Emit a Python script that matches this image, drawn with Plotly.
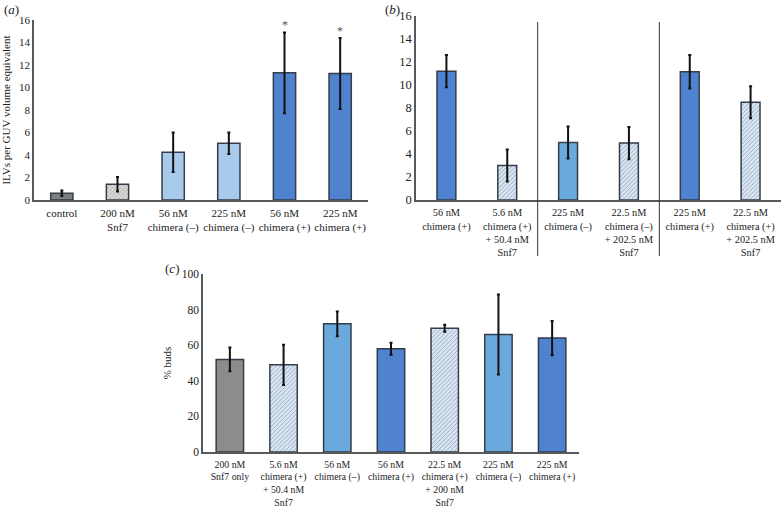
import plotly.graph_objects as go

# panel (a)
a_labels = ["control", "200 nM<br>Snf7", "56 nM<br>chimera (–)", "225 nM<br>chimera (–)",
            "56 nM<br>chimera (+)", "225 nM<br>chimera (+)"]
a_values = [0.6, 1.4, 4.25, 5.05, 11.3, 11.25]
a_errors = [0.25, 0.65, 1.75, 0.95, 3.6, 3.15]
a_kinds = ["grey", "grey_hatch", "light", "light", "dark", "dark"]
a_stars = ["", "", "", "", "*", "*"]

# panel (b)
b_labels = ["56 nM<br>chimera (+)", "5.6 nM<br>chimera (+)<br>+ 50.4 nM<br>Snf7",
            "225 nM<br>chimera (–)", "22.5 nM<br>chimera (–)<br>+ 202.5 nM<br>Snf7",
            "225 nM<br>chimera (+)", "22.5 nM<br>chimera (+)<br>+ 202.5 nM<br>Snf7"]
b_values = [11.2, 3.0, 5.0, 4.95, 11.15, 8.5]
b_errors = [1.4, 1.4, 1.4, 1.4, 1.45, 1.4]
b_kinds = ["dark", "blue_hatch", "mid", "blue_hatch", "dark", "blue_hatch"]
b_separators = [1.5, 3.5]

# panel (c)
c_labels = ["200 nM<br>Snf7 only", "5.6 nM<br>chimera (+)<br>+ 50.4 nM<br>Snf7",
            "56 nM<br>chimera (–)", "56 nM<br>chimera (+)",
            "22.5 nM<br>chimera (+)<br>+ 200 nM<br>Snf7",
            "225 nM<br>chimera (–)", "225 nM<br>chimera (+)"]
c_values = [52, 49, 72, 58, 69.5, 66, 64]
c_errors = [6.7, 11.3, 7.0, 3.4, 2.0, 22.5, 9.6]
c_kinds = ["grey_c", "blue_hatch", "mid", "dark", "blue_hatch", "mid", "dark"]

FILL = {
    "grey": ("#7f7f7f", None, None),
    "grey_c": ("#8c8c8c", None, None),
    "grey_hatch": ("#dcdcdc", "x", "#b8b8b8"),
    "light": ("#a9cbeb", None, None),
    "mid": ("#6aa9dc", None, None),
    "dark": ("#4f82cf", None, None),
    "blue_hatch": ("#d8e7f7", "/", "#b7d0ee"),
}

FONT = "Liberation Serif"
W, H = 782, 509


def px_x(p):
    return p / W


def px_y(p):
    return (H - p) / H


def bar_trace(labels, values, errors, kinds, xa, ya, width):
    colors = [FILL[k][0] for k in kinds]
    shapes = [FILL[k][1] or "" for k in kinds]
    fgs = [FILL[k][2] or "#000000" for k in kinds]
    return go.Bar(
        x=labels, y=values, xaxis=xa, yaxis=ya, width=width,
        marker=dict(color=colors, line=dict(color="#353d4a", width=1.5),
                    pattern=dict(shape=shapes, fgcolor=fgs, size=3, solidity=0.25,
                                 fillmode="overlay")),
        error_y=dict(type="data", array=errors, visible=True, color="#111111",
                     thickness=2, width=1.5),
        showlegend=False, hoverinfo="skip",
    )


fig = go.Figure()
fig.add_trace(bar_trace(a_labels, a_values, a_errors, a_kinds, "x", "y", 0.4))
fig.add_trace(bar_trace(b_labels, b_values, b_errors, b_kinds, "x2", "y2", 0.31))
fig.add_trace(bar_trace(c_labels, c_values, c_errors, c_kinds, "x3", "y3", 0.51))


def tfont(size):
    return dict(family=FONT, size=size, color="#222222")


common_x = dict(showline=True, linecolor="#595959", linewidth=1.5, ticks="",
                showgrid=False, zeroline=False, tickangle=0,
                ticklabelstandoff=2, fixedrange=True, automargin=False)
common_y = dict(showline=True, linecolor="#595959", linewidth=1.5, ticks="",
                showgrid=False, zeroline=False, fixedrange=True, automargin=False)

fig.update_layout(
    width=W, height=H,
    margin=dict(l=0, r=0, t=0, b=0),
    paper_bgcolor="white", plot_bgcolor="white",
    font=dict(family=FONT, color="#222222"),
    xaxis=dict(domain=[px_x(34), px_x(368)], anchor="y", range=[-0.5, 5.5],
               tickfont=tfont(11), **common_x),
    yaxis=dict(domain=[px_y(200), px_y(20)], anchor="x", range=[0, 16], dtick=2,
               tickfont=tfont(11),
               title=dict(text="ILVs per GUV volume equivalent",
                          font=dict(family=FONT, size=11), standoff=7),
               **common_y),
    xaxis2=dict(domain=[px_x(416), px_x(781)], anchor="y2", range=[-0.5, 5.5],
                tickfont=tfont(10.3), **common_x),
    yaxis2=dict(domain=[px_y(200), px_y(16)], anchor="x2", range=[0, 16], dtick=2,
                tickfont=tfont(12.5), **common_y),
    xaxis3=dict(domain=[px_x(203), px_x(579)], anchor="y3", range=[-0.5, 6.5],
                tickfont=tfont(9.8), **common_x),
    yaxis3=dict(domain=[px_y(452), px_y(274)], anchor="x3", range=[0, 100], dtick=20,
                tickfont=tfont(11.5),
                title=dict(text="% buds", font=dict(family=FONT, size=11), standoff=8),
                **common_y),
)

# significance stars in (a)
for lab, v, e, s in zip(a_labels, a_values, a_errors, a_stars):
    if s:
        fig.add_annotation(x=lab, y=v + e, xref="x", yref="y", text=s, showarrow=False,
                           yanchor="bottom", yshift=-2,
                           font=dict(family=FONT, size=12, color="#555555"))

# group separators in (b)
for sx in b_separators:
    fig.add_shape(type="line", xref="x2", yref="paper", x0=sx, x1=sx,
                  y0=px_y(256), y1=px_y(22), line=dict(color="#333333", width=1))

# panel letters
for txt, x, y in [("(<i>a</i>)", 2, 10), ("(<i>b</i>)", 383, 10), ("(<i>c</i>)", 163, 268)]:
    fig.add_annotation(x=px_x(x), y=px_y(y), xref="paper", yref="paper", text=txt,
                       showarrow=False, xanchor="left", yanchor="middle",
                       font=dict(family=FONT, size=13, color="#222222"))

# drop the page's default body margin so the figure fills the window
fig.write_html("out.html", config={"displayModeBar": False},
               post_script="document.body.style.margin='0';")
